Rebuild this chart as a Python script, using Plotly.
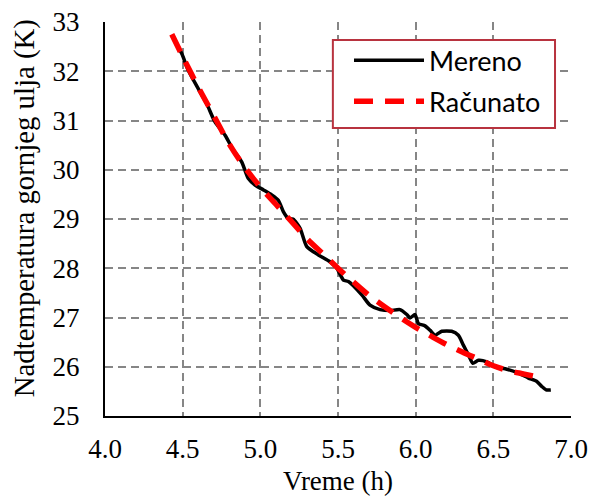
import plotly.graph_objects as go

# Measured ("Mereno")
meas_x = [4.43, 4.494, 4.536, 4.612, 4.655, 4.708, 4.773, 4.826, 4.88, 4.923, 4.966, 5.02,
          5.073, 5.116, 5.148, 5.18, 5.21, 5.256, 5.299, 5.374, 5.449, 5.492, 5.535, 5.567,
          5.653, 5.706, 5.771, 5.835, 5.899, 5.943, 5.964, 5.996, 6.017, 6.06, 6.093, 6.125,
          6.168, 6.232, 6.275, 6.307, 6.34, 6.368, 6.404, 6.458, 6.511, 6.587, 6.661, 6.726,
          6.78, 6.812, 6.84, 6.87]
meas_y = [32.73, 32.36, 32.02, 31.58, 31.34, 30.97, 30.70, 30.40, 30.16, 29.82, 29.69, 29.59,
          29.49, 29.38, 29.15, 29.01, 29.0, 28.81, 28.44, 28.27, 28.13, 28.0, 27.76, 27.73,
          27.46, 27.25, 27.16, 27.14, 27.16, 27.06, 26.99, 27.06, 26.88, 26.83, 26.74, 26.64,
          26.72, 26.72, 26.64, 26.44, 26.24, 26.07, 26.13, 26.10, 26.0, 25.95, 25.87, 25.77,
          25.70, 25.60, 25.53, 25.53]

# Computed ("Računato")
calc_x = [4.43, 4.5, 4.6, 4.7, 4.8, 4.9, 5.0, 5.1, 5.2, 5.3, 5.4, 5.5, 5.6, 5.7, 5.8, 5.9,
          6.0, 6.1, 6.2, 6.3, 6.4, 6.5, 6.6, 6.7, 6.77]
calc_y = [32.75, 32.3, 31.68, 31.1, 30.52, 30.05, 29.65, 29.3, 28.95, 28.6, 28.3, 28.0, 27.72,
          27.45, 27.22, 27.0, 26.8, 26.62, 26.45, 26.3, 26.16, 26.02, 25.92, 25.85, 25.8]

x_ticks = [4.0, 4.5, 5.0, 5.5, 6.0, 6.5, 7.0]
x_ticklabels = ["4.0", "4.5", "5.0", "5.5", "6.0", "6.5", "7.0"]
y_ticks = [25, 26, 27, 28, 29, 30, 31, 32, 33]
x_title = "Vreme (h)"
y_title = "Nadtemperatura gornjeg ulja (K)"

fig = go.Figure()
fig.add_trace(go.Scatter(x=meas_x, y=meas_y, mode="lines", name="Mereno", legendgroup="a",
                         line=dict(color="black", width=3.5, shape="spline", smoothing=0.6)))
fig.add_trace(go.Scatter(x=calc_x, y=calc_y, mode="lines", name="Računato", legendgroup="b",
                         line=dict(color="#ff0000", width=5.5, dash="19px,12px", shape="spline")))

serif = "Liberation Serif, Times New Roman, serif"
grid = dict(showgrid=True, gridcolor="#868686", gridwidth=2, griddash="8px,5px")
fig.update_xaxes(range=[4.0, 7.0], tickvals=x_ticks, ticktext=x_ticklabels, automargin=False,
                 showline=True, linecolor="black", linewidth=2, ticks="", zeroline=False,
                 tickfont=dict(family=serif, size=27, color="black"), ticklabelstandoff=8,
                 ticklabeloverflow="allow", **grid)
fig.update_yaxes(range=[25, 33], tickvals=y_ticks, automargin=False,
                 showline=True, linecolor="black", linewidth=2, ticks="", zeroline=False,
                 tickfont=dict(family=serif, size=27, color="black"), ticklabelstandoff=18,
                 ticklabeloverflow="allow", **grid)

fig.add_annotation(text=x_title, xref="paper", yref="paper", x=0.5, y=-0.2081,
                   xanchor="center", yanchor="bottom", showarrow=False,
                   font=dict(family=serif, size=27, color="black"))
fig.add_annotation(text=y_title, xref="paper", yref="paper", x=-0.174, y=0.527,
                   xanchor="center", yanchor="middle", showarrow=False, textangle=-90,
                   font=dict(family=serif, size=28.8, color="black"))

# legend frame
fig.add_shape(type="rect", xref="paper", yref="paper", x0=0.489, x1=0.9657, y0=0.731, y1=0.954,
              line=dict(color="#b8333f", width=2), fillcolor="white", layer="above")

fig.update_layout(
    template="none",
    width=589, height=498,
    margin=dict(l=105, r=18, t=22, b=82),
    plot_bgcolor="white", paper_bgcolor="white",
    showlegend=True,
    legend=dict(x=0.5236, y=0.964, xanchor="left", yanchor="top",
                bgcolor="rgba(0,0,0,0)", borderwidth=0,
                font=dict(family="Lato", size=27, color="black"),
                traceorder="grouped", tracegroupgap=3,
                itemwidth=70),
)

fig.write_html("out.html", config={"displayModeBar": False},
               post_script="document.body.style.margin='0';document.body.style.overflow='hidden';")
